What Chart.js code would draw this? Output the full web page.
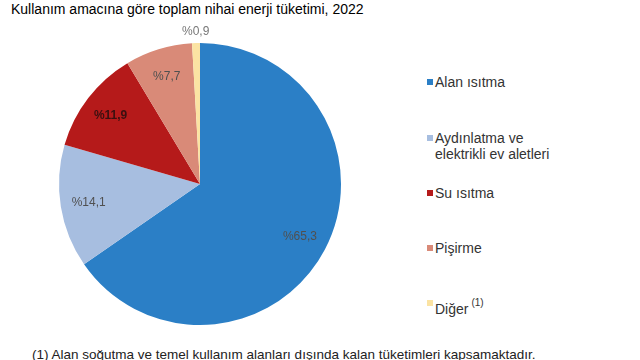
<!DOCTYPE html>
<html>
<head>
<meta charset="utf-8">
<script src="https://cdn.jsdelivr.net/npm/chart.js@4/dist/chart.umd.min.js"></script>
<style>
  body { margin: 0; background: #fff; font-family: "Liberation Sans", Arial, sans-serif; }
  #page { position: relative; width: 640px; height: 360px; overflow: hidden; }
  #title { position: absolute; left: 11px; top: 1px; font-size: 14px; color: #000; white-space: nowrap; }
  #chartBox { position: absolute; left: 0; top: 24px; width: 400px; height: 320px; }
  #legend { position: absolute; left: 427px; top: 0; }
  .leg { position: absolute; left: 0; white-space: nowrap; font-size: 14px; color: #333; line-height: 16px; }
  .leg i { position: absolute; left: 0; top: 5px; width: 6px; height: 6px; }
  .leg span { display: block; margin-left: 8px; }
  .leg sup { font-size: 10px; vertical-align: 8px; margin-left: 3px; }
  #note { position: absolute; left: 32px; top: 347px; font-size: 13.5px; color: #222; white-space: nowrap; }
</style>
</head>
<body>
<div id="page">
  <div id="title">Kullanım amacına göre toplam nihai enerji tüketimi, 2022</div>
  <div id="chartBox"><canvas id="pie"></canvas></div>
  <div id="legend"></div>
  <div id="note">(1) Alan soğutma ve temel kullanım alanları dışında kalan tüketimleri kapsamaktadır.</div>
</div>
<script>
const categories = ["Alan ısıtma", "Aydınlatma ve elektrikli ev aletleri", "Su ısıtma", "Pişirme", "Diğer"];
const legendLines = [["Alan ısıtma"], ["Aydınlatma ve", "elektrikli ev aletleri"], ["Su ısıtma"], ["Pişirme"], ["Diğer"]];
const shares = [65.3, 14.1, 11.9, 7.7, 0.9];
const colors = ["#2b7fc6", "#a7bee0", "#b51a1a", "#d98a78", "#fbe3a3"];

// legend (HTML so the footnote marker can be a superscript)
const legendTops = [74, 130, 185, 240, 295];
const legend = document.getElementById("legend");
categories.forEach((c, i) => {
  const row = document.createElement("div");
  row.className = "leg";
  row.style.top = legendTops[i] + "px";
  let html = legendLines[i].join("<br>");
  if (c === "Diğer") html += "<sup>(1)</sup>";
  row.innerHTML = `<i style="background:${colors[i]}"></i><span>${html}</span>`;
  legend.appendChild(row);
});

const pctLabels = {
  id: "pctLabels",
  afterDatasetsDraw(chart) {
    const ctx = chart.ctx;
    chart.getDatasetMeta(0).data.forEach((arc, i) => {
      const mid = (arc.startAngle + arc.endAngle) / 2;
      const small = shares[i] < 2;
      const r = small ? arc.outerRadius + 11 : arc.outerRadius * 0.8;
      const x = arc.x + Math.cos(mid) * r;
      const y = arc.y + Math.sin(mid) * r;
      ctx.save();
      ctx.font = (i === 2 ? "bold " : "") + "12px 'Liberation Sans', Arial, sans-serif";
      ctx.fillStyle = small ? "#777" : (i === 2 ? "#3a1010" : "#505050");
      ctx.textAlign = "center";
      ctx.textBaseline = "middle";
      ctx.fillText("%" + shares[i].toFixed(1).replace(".", ","), x, y);
      ctx.restore();
    });
  }
};

new Chart(document.getElementById("pie"), {
  type: "pie",
  data: {
    labels: categories,
    datasets: [{ data: shares, backgroundColor: colors, borderWidth: 0 }]
  },
  options: {
    responsive: true,
    maintainAspectRatio: false,
    animation: false,
    layout: { padding: { left: 59, right: 59, top: 19, bottom: 19 } },
    plugins: { legend: { display: false }, tooltip: { enabled: false } }
  },
  plugins: [pctLabels]
});
</script>
</body>
</html>
